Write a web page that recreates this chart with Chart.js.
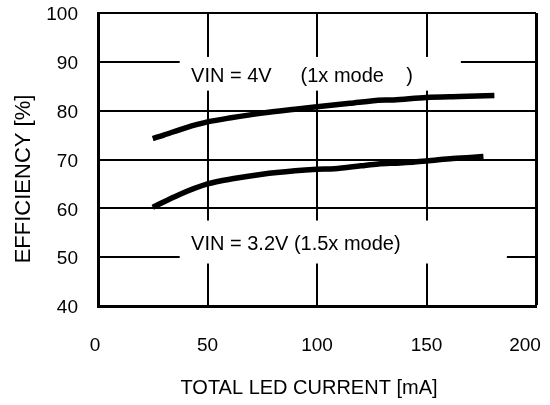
<!DOCTYPE html>
<html>
<head>
<meta charset="utf-8">
<script src="https://cdn.jsdelivr.net/npm/chart.js@4/dist/chart.umd.min.js"></script>
<style>
  html, body { margin: 0; padding: 0; background: #fff; }
  #wrap { width: 550px; height: 405px; }
</style>
</head>
<body>
<div id="wrap"><canvas id="c" width="550" height="405"></canvas></div>
<script>
// ---- data ----
const current1x = [25, 30, 40, 50, 60, 75, 90, 100, 115, 127, 135, 150, 165, 181];
const eff1x     = [74.3, 75.0, 76.5, 77.7, 78.5, 79.5, 80.3, 80.8, 81.5, 82.1, 82.2, 82.7, 82.9, 83.1];
const current15x = [25, 37, 50, 62, 75, 90, 100, 108, 120, 128, 138, 150, 162, 176];
const eff15x     = [60.2, 62.8, 65.0, 66.1, 67.0, 67.7, 68.0, 68.1, 68.7, 69.1, 69.3, 69.7, 70.2, 70.6];

const xTickValues = [0, 50, 100, 150, 200];
const yTickValues = [40, 50, 60, 70, 80, 90, 100];

const xTitle = 'TOTAL LED CURRENT [mA]';
const yTitle = 'EFFICIENCY [%]';
const label1x = ['VIN = 4V', '(1x mode    )'];
const label15x = 'VIN = 3.2V (1.5x mode)';

const FONT = '"Liberation Sans", Arial, Helvetica, sans-serif';

function toPts(xs, ys) { return xs.map((x, i) => ({x: x, y: ys[i]})); }

// annotation boxes (in data units) and captions
const notes = [
  { box: [37.3, 165.7, 91.0, 84.1], texts: [[label1x[0], 42.5, 87.0], [label1x[1], 92.5, 87.0]] },
  { box: [37.3, 186.7, 57.5, 48.7], texts: [[label15x, 42.5, 52.6]] }
];

const notePlugin = {
  id: 'notes',
  beforeDatasetsDraw(chart) {
    const ctx = chart.ctx, xs = chart.scales.x, ys = chart.scales.y;
    ctx.save();
    notes.forEach(n => {
      const x0 = xs.getPixelForValue(n.box[0]), x1 = xs.getPixelForValue(n.box[1]);
      const y0 = ys.getPixelForValue(n.box[2]), y1 = ys.getPixelForValue(n.box[3]);
      ctx.fillStyle = '#fff';
      ctx.fillRect(x0, y0, x1 - x0, y1 - y0);
      ctx.fillStyle = '#000';
      ctx.font = '20px ' + FONT;
      ctx.textBaseline = 'middle';
      ctx.textAlign = 'left';
      n.texts.forEach(t => ctx.fillText(t[0], xs.getPixelForValue(t[1]), ys.getPixelForValue(t[2])));
    });
    ctx.restore();
  },
  afterDraw(chart) {
    const ctx = chart.ctx;
    ctx.save();
    ctx.fillStyle = '#000';
    ctx.textAlign = 'center';
    ctx.textBaseline = 'middle';
    ctx.font = '20px ' + FONT;
    ctx.fillText(xTitle, 309, 388);
    ctx.font = '22px ' + FONT;
    ctx.translate(24, 179);
    ctx.rotate(-Math.PI / 2);
    ctx.fillText(yTitle, 0, 0);
    ctx.restore();
  }
};

// small per-label nudges as in the reference
function nudgeLabels(s, fn) {
  if (s.__wrapped) return;
  const orig = s._computeLabelItems.bind(s);
  s._computeLabelItems = function (ca) {
    const items = orig(ca);
    items.forEach(fn);
    return items;
  };
  s.__wrapped = true;
  s._labelItems = null;
}

const lineStyle = { borderColor: '#000', borderWidth: 5.5, pointRadius: 0, fill: false, tension: 0.3, borderCapStyle: 'butt', showLine: true };

new Chart(document.getElementById('c'), {
  type: 'scatter',
  data: {
    datasets: [
      Object.assign({ label: 'VIN = 4V (1x mode)', data: toPts(current1x, eff1x) }, lineStyle),
      Object.assign({ label: 'VIN = 3.2V (1.5x mode)', data: toPts(current15x, eff15x) }, lineStyle)
    ]
  },
  options: {
    responsive: false,
    animation: false,
    layout: { padding: { top: 13, right: 14, left: 0, bottom: 0 } },
    plugins: { legend: { display: false }, tooltip: { enabled: false } },
    scales: {
      x: {
        type: 'linear', min: 0, max: 200,
        afterBuildTicks(s) { s.ticks = xTickValues.map(v => ({value: v})); },
        afterFit(s) { s.height = 99; s.paddingLeft = 0; s.paddingRight = 0; },
        afterUpdate(s) {
          nudgeLabels(s, it => {
            if (it.label === '200') it.options.translation[0] -= 11;
            if (it.label === '0') it.options.translation[0] -= 3;
          });
        },
        grid: { color: '#000', lineWidth: c => (c.tick && c.tick.value === 200) ? 3 : 2, drawTicks: false },
        border: { color: '#000', width: 3 },
        ticks: { color: '#000', font: { family: FONT, size: 19 }, padding: 28, maxRotation: 0 }
      },
      y: {
        type: 'linear', min: 40, max: 100,
        afterBuildTicks(s) { s.ticks = yTickValues.map(v => ({value: v})); },
        afterFit(s) { s.width = 98; s.paddingTop = 0; s.paddingBottom = 0; },
        afterUpdate(s) {
          nudgeLabels(s, it => { it.options.translation[1] += 2; });
        },
        grid: { color: '#000', lineWidth: 2, drawTicks: false },
        border: { color: '#000', width: 3 },
        ticks: { color: '#000', font: { family: FONT, size: 19 }, padding: 20 }
      }
    }
  },
  plugins: [notePlugin]
});
</script>
</body>
</html>
